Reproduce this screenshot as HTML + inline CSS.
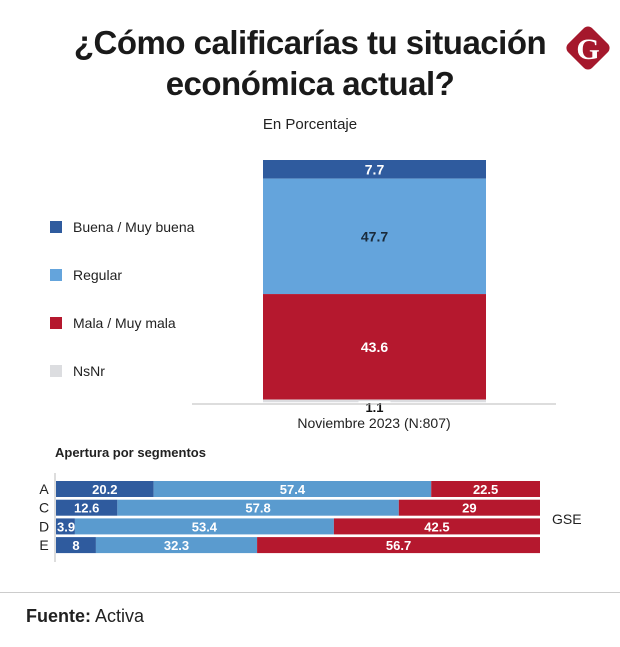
<!DOCTYPE html>
<html><head><meta charset="utf-8"><style>
body{margin:0;width:620px;height:647px;background:#fff;font-family:"Liberation Sans",sans-serif;overflow:hidden;position:relative}
.t{position:absolute;white-space:nowrap}
</style></head><body>
<div class="t" style="left:0;width:620px;top:22px;text-align:center;font-size:33px;font-weight:bold;line-height:41px;color:#1a1a1a;letter-spacing:-0.5px">¿Cómo calificarías tu situación<br>económica actual?</div>
<svg style="position:absolute;left:560px;top:20px" width="56" height="56">
<rect x="11" y="11" width="34" height="34" rx="6" fill="#a5182c" transform="rotate(45 28 28)"/>
<text x="28" y="39" text-anchor="middle" font-family="Liberation Serif" font-weight="bold" font-size="30" fill="#fff">G</text></svg>
<div class="t" style="left:0;width:620px;top:116px;text-align:center;font-size:15px;color:#222">En Porcentaje</div>
<svg id="c" width="620" height="647" style="position:absolute;left:0;top:0" font-family="Liberation Sans"></svg>
<div class="t" style="left:26px;top:606px;font-size:18px;color:#222"><b>Fuente:</b> Activa</div>
<div style="position:absolute;left:0;top:592px;width:620px;height:1px;background:#ccc"></div>
<script>
const mainCats=["Buena / Muy buena","Regular","Mala / Muy mala","NsNr"];
const mainVals=[7.7,47.7,43.6,1.1];
const mainColors=["#2f5b9e","#64a4dc","#b5182e","#dcdde0"];
const segCats=["A","C","D","E"];
const segBuena=[20.2,12.6,3.9,8];
const segRegular=[57.4,57.8,53.4,32.3];
const segMala=[22.5,29,42.5,56.7];
const NS="http://www.w3.org/2000/svg",svg=document.getElementById('c');
function mk(t,a,p){const e=document.createElementNS(NS,t);for(const k in a)e.setAttribute(k,a[k]);(p||svg).appendChild(e);return e;}
// legend
mainCats.forEach((c,i)=>{const y=228+i*48;
const r=mk('rect',{x:50,y:y-7,width:12,height:12,fill:mainColors[i]});


const t=mk('text',{x:73,y:y+4,'font-size':14,fill:'#222'});t.textContent=c;

});
// main stacked bar
const bx=263,bw=223,barTop=160,ppu=2.42;
const ys=v=>v*ppu;
let cy=barTop;
mainVals.forEach((v,i)=>{const h=ys(v);
const r=mk('rect',{x:bx,y:cy,width:bw,height:h,fill:mainColors[i]});


if(i<3){const t=mk('text',{x:bx+bw/2,y:cy+h/2+5,'text-anchor':'middle','font-size':14,'font-weight':'bold',fill:i==1?'#1a2a3a':'#fff'});t.textContent=v;

}
else{mk('rect',{x:bx+bw/2-16,y:cy+h-1,width:32,height:13,fill:'#fff'});
const t=mk('text',{x:bx+bw/2,y:cy+h+10,'text-anchor':'middle','font-size':13,'font-weight':'bold',fill:'#111'});t.textContent=v;

}
cy+=h;});
const ax=mk('line',{x1:192,x2:556,y1:404,y2:404,stroke:'#bbb'});


const xl=mk('text',{x:374,y:428,'text-anchor':'middle','font-size':14,fill:'#222'});xl.textContent='Noviembre 2023 (N:807)';


// segments
const st=mk('text',{x:55,y:457,'font-size':13,'font-weight':'bold',fill:'#222'});st.textContent='Apertura por segmentos';


const sx=56,sw=484;
mk('line',{x1:55,x2:55,y1:473,y2:562,stroke:'#bbb'});
const segCols=["#2f5b9e","#5a9bcf","#b5182e"];
segCats.forEach((c,i)=>{const y=481+i*18.7,h=16;
const l=mk('text',{x:44,y:y+13,'text-anchor':'middle','font-size':14,fill:'#222'});l.textContent=c;


const vals=[segBuena[i],segRegular[i],segMala[i]];
const tot=vals.reduce((a,b)=>a+b,0);
let x=sx;
vals.forEach((v,j)=>{const w=v/tot*sw;
const r=mk('rect',{x:x,y:y,width:w,height:h,fill:segCols[j]});


const tx=w<24?x+1:x+w/2;
const t=mk('text',{x:tx,y:y+13,'text-anchor':w<24?'start':'middle','font-size':13,'font-weight':'bold',fill:'#fff'});t.textContent=v;


x+=w;});});
const g=mk('text',{x:552,y:524,'font-size':14,fill:'#222'});g.textContent='GSE';


</script>
</body></html>
